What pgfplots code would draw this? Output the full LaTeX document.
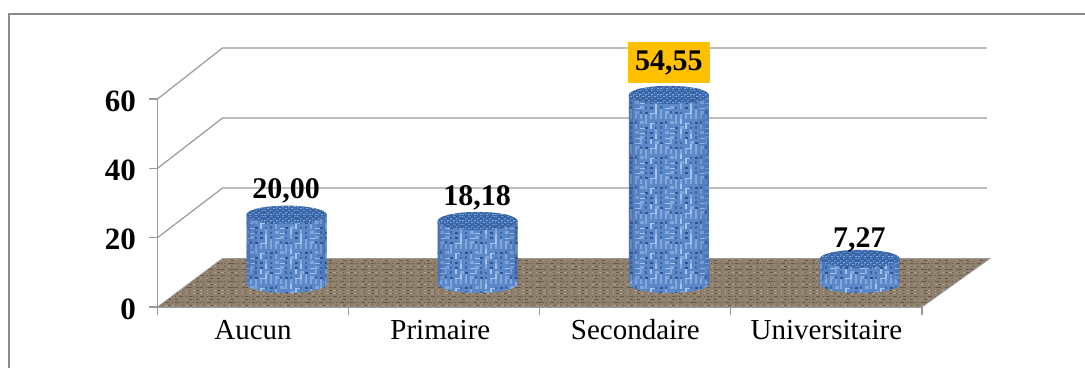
\documentclass[border=0pt]{standalone}
\usepackage{pgfplots}
\pgfplotsset{compat=1.18}
\usepackage{fontspec}
\setmainfont{Liberation Serif}
\usetikzlibrary{patterns}

% Woven cloth swatch for the cylinders
\definecolor{clothmid}{HTML}{5C88C8}
\definecolor{clothdark}{HTML}{3A67A8}
\definecolor{clothdeep}{HTML}{2C5494}
\definecolor{clothlight}{HTML}{A4C3EF}
\definecolor{clothpale}{HTML}{83A8DE}
\pgfdeclarepatterninherentlycolored{woven}
  {\pgfqpoint{0pt}{0pt}}{\pgfqpoint{65.6pt}{65.6pt}}{\pgfqpoint{65pt}{65pt}}{%
  \pgfsetfillcolor{clothmid}
  \pgfpathrectangle{\pgfqpoint{0pt}{0pt}}{\pgfqpoint{65.6pt}{65.6pt}}\pgfusepath{fill}
  \foreach \i in {0,...,12}{\foreach \j in {0,...,12}{%
    \pgfmathtruncatemacro{\h}{mod(\i*\i*7+\j*\j*11+\i*\j*5+\j*3+\i,7)}
    \pgfmathsetmacro{\px}{\i*5}\pgfmathsetmacro{\py}{\j*5}
    \ifcase\h
      \pgfsetfillcolor{clothdeep}\pgfpathrectangle{\pgfqpoint{\px pt}{\py pt}}{\pgfqpoint{3.4pt}{1.6pt}}
    \or
      \pgfsetfillcolor{clothlight}\pgfpathrectangle{\pgfqpoint{\px pt}{\py pt}}{\pgfqpoint{1.6pt}{5pt}}
    \or
      \pgfsetfillcolor{clothdark}\pgfpathrectangle{\pgfqpoint{\px pt}{\py pt}}{\pgfqpoint{2pt}{3.4pt}}
    \or
      \pgfsetfillcolor{clothlight}\pgfpathrectangle{\pgfqpoint{\px pt}{\py pt}}{\pgfqpoint{5pt}{1.4pt}}
    \or
      \pgfsetfillcolor{clothpale}\pgfpathrectangle{\pgfqpoint{\px pt}{\py pt}}{\pgfqpoint{4pt}{3pt}}
    \or
      \pgfsetfillcolor{clothdark}\pgfpathrectangle{\pgfqpoint{\px pt}{\py pt}}{\pgfqpoint{2.4pt}{2.4pt}}
    \else
      \pgfsetfillcolor{clothpale}\pgfpathrectangle{\pgfqpoint{\px pt}{\py pt}}{\pgfqpoint{2pt}{5pt}}
    \fi
    \pgfusepath{fill}
  }}%
}
% Tighter, darker weave for the cylinder caps
\pgfdeclarepatterninherentlycolored{wovencap}
  {\pgfqpoint{0pt}{0pt}}{\pgfqpoint{33.5pt}{14.5pt}}{\pgfqpoint{33pt}{14pt}}{%
  \pgfsetfillcolor{clothdark}
  \pgfpathrectangle{\pgfqpoint{0pt}{0pt}}{\pgfqpoint{33.5pt}{14.5pt}}\pgfusepath{fill}
  \foreach \i in {0,...,10}{\foreach \j in {0,...,6}{%
    \pgfmathtruncatemacro{\h}{mod(\i*\i*5+\j*7+\i*\j*2,4)}
    \pgfmathsetmacro{\px}{\i*3}\pgfmathsetmacro{\py}{\j*2}
    \ifcase\h
      \pgfsetfillcolor{clothpale}\pgfpathrectangle{\pgfqpoint{\px pt}{\py pt}}{\pgfqpoint{2pt}{0.7pt}}
    \or
      \pgfsetfillcolor{clothmid}\pgfpathrectangle{\pgfqpoint{\px pt}{\py pt}}{\pgfqpoint{1.2pt}{1.6pt}}
    \or
      \pgfsetfillcolor{clothmid}\pgfpathrectangle{\pgfqpoint{\px pt}{\py pt}}{\pgfqpoint{2.6pt}{1pt}}
    \else
      \pgfsetfillcolor{clothdeep}\pgfpathrectangle{\pgfqpoint{\px pt}{\py pt}}{\pgfqpoint{1pt}{1pt}}
    \fi
    \pgfusepath{fill}
  }}%
}
% Speckled ground for the floor of the plot
\definecolor{floormid}{HTML}{8F7F6D}
\definecolor{floorlight}{HTML}{B0A28F}
\definecolor{floordark}{HTML}{66584A}
\pgfdeclarepatterninherentlycolored{speckle}
  {\pgfqpoint{0pt}{0pt}}{\pgfqpoint{77.5pt}{39.5pt}}{\pgfqpoint{77pt}{39pt}}{%
  \pgfsetfillcolor{floormid}
  \pgfpathrectangle{\pgfqpoint{0pt}{0pt}}{\pgfqpoint{77.5pt}{39.5pt}}\pgfusepath{fill}
  \foreach \i in {0,...,21}{\foreach \j in {0,...,12}{%
    \pgfmathtruncatemacro{\h}{mod(\i*\i*7+\j*\j*11+\i*\j*5+\j,6)}
    \pgfmathsetmacro{\px}{\i*3.5}\pgfmathsetmacro{\py}{\j*3}
    \ifcase\h
      \pgfsetfillcolor{floordark}\pgfpathrectangle{\pgfqpoint{\px pt}{\py pt}}{\pgfqpoint{3pt}{1pt}}
    \or
      \pgfsetfillcolor{floorlight}\pgfpathrectangle{\pgfqpoint{\px pt}{\py pt}}{\pgfqpoint{3.4pt}{1.3pt}}
    \or
      \pgfsetfillcolor{floormid}\pgfpathrectangle{\pgfqpoint{\px pt}{\py pt}}{\pgfqpoint{1pt}{1pt}}
    \or
      \pgfsetfillcolor{floorlight}\pgfpathrectangle{\pgfqpoint{\px pt}{\py pt}}{\pgfqpoint{1.4pt}{1pt}}
    \or
      \pgfsetfillcolor{floordark}\pgfpathrectangle{\pgfqpoint{\px pt}{\py pt}}{\pgfqpoint{1.2pt}{0.9pt}}
    \else
      \pgfsetfillcolor{floormid}\pgfpathrectangle{\pgfqpoint{\px pt}{\py pt}}{\pgfqpoint{2pt}{1pt}}
    \fi
    \pgfusepath{fill}
  }}%
}

% Elliptical ends of the cylinders
\pgfdeclareplotmark{cylend}{%
  \pgfpathellipse{\pgfpointorigin}{\pgfqpoint{40pt}{0pt}}{\pgfqpoint{0pt}{9pt}}%
  \pgfusepathqfill}

\definecolor{framegray}{HTML}{8C8C8C}
\definecolor{gridgray}{HTML}{9A9A9A}
\definecolor{labelgold}{HTML}{FFC000}

\pgfplotstableread{
pos  share
0.5  20.00
1.5  18.18
2.5  54.55
3.5  7.27
}\sharetable

\pgfplotstableread{
pos  base
0.5  0
1.5  0
2.5  0
3.5  0
}\basetable

\begin{document}
\begin{tikzpicture}[x=1pt,y=1pt]
\path[use as bounding box] (0,0) rectangle (1085,369);
% outer chart frame, open on the right and at the bottom
\draw[framegray,line width=1.3pt] (9,1) -- (9,355) -- (1085,355);

\begin{axis}[
  at={(157.5pt,62pt)}, anchor=south west,
  scale only axis, width=764.5pt, height=208pt,
  xmin=0, xmax=4, ymin=0, ymax=60,
  clip=false,
  axis x line*=bottom, axis y line*=left,
  axis line style={gridgray,line width=1.2pt,-},
  tick style={gridgray,line width=1.2pt},
  tick align=outside,
  major tick length=8pt,
  xtick={0,1,2,3,4}, xticklabels={},
  extra x ticks={0.5,1.48,2.5,3.5},
  extra x tick labels={Aucun,Primaire,Secondaire,Universitaire},
  extra x tick style={major tick length=0pt,
    xticklabel style={font=\fontsize{29}{30}\selectfont,text height=20pt,yshift=-9pt}},
  ytick={0,20,40,60}, yticklabels={0,20,40,60},
  yticklabel style={font=\fontsize{31}{32}\selectfont\bfseries,xshift=-10pt,yshift=-2pt},
  /pgf/number format/assume math mode=true,
  every axis plot/.append style={forget plot},
]
% back wall gridlines and their returns along the side wall
\addplot[gridgray,line width=1.2pt] coordinates {(0,20) (0.34,34.3) (4.34,34.3)};
\addplot[gridgray,line width=1.2pt] coordinates {(0,40) (0.34,54.5) (4.34,54.5)};
\addplot[gridgray,line width=1.2pt] coordinates {(0,60) (0.34,74.7) (4.34,74.7)};

% floor
\addplot[draw=gridgray,line width=0.8pt,pattern=speckle] coordinates {(0,0) (4,0) (4.355,14) (0.34,14)} -- cycle;

% cylinders: base, body, edge darkening, cap; shifted to mid-depth of the floor
\begin{scope}[xshift=33.5pt,yshift=23pt]
\addplot[only marks,mark=cylend,mark options={draw=none,fill=clothmid,pattern=woven}] table[x=pos,y=base] {\basetable};
\addplot[ybar,bar width=80pt,bar shift=0pt,draw=none,pattern=woven,xshift=-33.5pt,yshift=-23pt] table[x=pos,y=share] {\sharetable};
\addplot[ybar,bar width=4pt,bar shift=-38pt,draw=none,fill=clothdeep,opacity=0.35,xshift=-33.5pt,yshift=-23pt] table[x=pos,y=share] {\sharetable};
\addplot[ybar,bar width=4pt,bar shift=38pt,draw=none,fill=clothdeep,opacity=0.35,xshift=-33.5pt,yshift=-23pt] table[x=pos,y=share] {\sharetable};
\addplot[ybar,bar width=6pt,bar shift=-33pt,draw=none,fill=clothdeep,opacity=0.15,xshift=-33.5pt,yshift=-23pt] table[x=pos,y=share] {\sharetable};
\addplot[ybar,bar width=6pt,bar shift=33pt,draw=none,fill=clothdeep,opacity=0.15,xshift=-33.5pt,yshift=-23pt] table[x=pos,y=share] {\sharetable};
\addplot[only marks,mark=cylend,mark options={draw=none,fill=clothdark,pattern=wovencap}] table[x=pos,y=share] {\sharetable};
\end{scope}

% value labels
\pgfplotsset{valuelabel/.style={only marks,mark=none,point meta=y,
  nodes near coords={\pgfmathprintnumber[assume math mode=true,fixed,fixed zerofill,precision=2,use comma]{\pgfplotspointmeta}},
  every node near coord/.append style={font=\fontsize{30}{31}\selectfont\bfseries,text=black,anchor=base,inner sep=0pt,xshift=33pt,yshift=#1}}}
\addplot[valuelabel=39pt] coordinates {(0.5,20.00)};
\addplot[valuelabel=38pt] coordinates {(1.5,18.18)};
\addplot[valuelabel=34pt] coordinates {(3.5,7.27)};
\addplot[only marks,mark=none,point meta=y,
  nodes near coords={\pgfmathprintnumber[assume math mode=true,fixed,fixed zerofill,precision=2,use comma]{\pgfplotspointmeta}},
  every node near coord/.append style={font=\fontsize{30}{31}\selectfont\bfseries,text=black,anchor=center,
    fill=labelgold,minimum width=82pt,minimum height=41pt,inner sep=0pt,xshift=33.5pt,yshift=55pt}]
  coordinates {(2.5,54.55)};
\end{axis}
\end{tikzpicture}
\end{document}
